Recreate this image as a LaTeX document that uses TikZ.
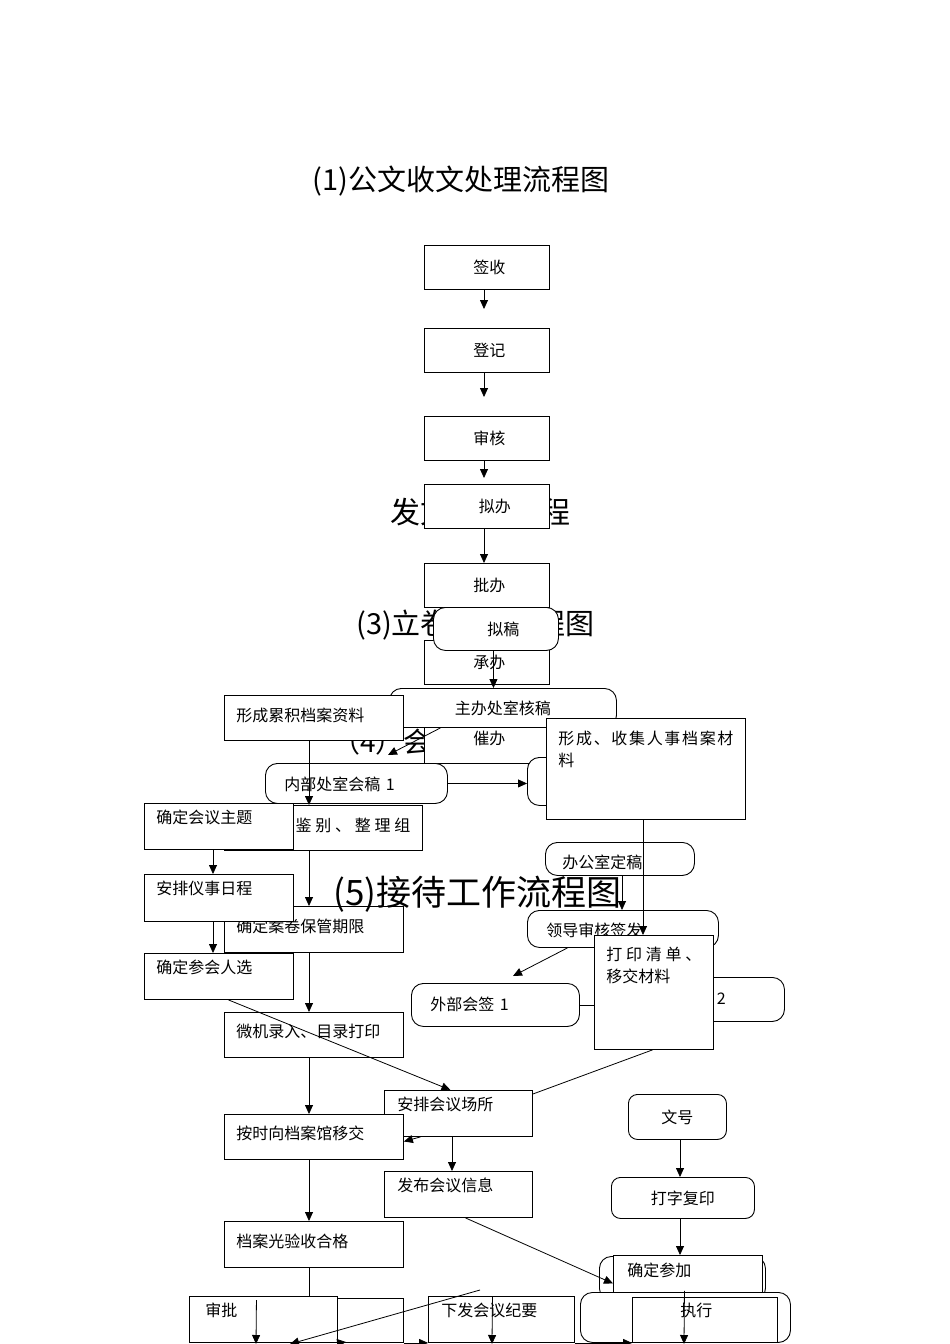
\documentclass[tikz,border=0pt]{standalone}
\usepackage{fontspec}
\setmainfont{Noto Sans CJK SC}
\usetikzlibrary{arrows.meta}

\begin{document}
\begin{tikzpicture}[x=1pt,y=-1pt,
    every node/.style={font=\fontsize{16}{22}\selectfont},
    flow/.style={draw,line width=0.9pt,fill=white,inner ysep=0pt,anchor=north west},
    sqbox/.style={flow},
    rdbox/.style={flow,rounded corners=12pt},
    cbox/.style={sqbox,minimum width=125pt,minimum height=44pt},
    lft/.style={inner xsep=12pt,text width=#1,align=left},
    ttl/.style={inner sep=0pt,font=\fontsize{29}{31}\selectfont},
    arr/.style={line width=0.8pt,-{Triangle[length=9pt,width=8pt]}},
    ln/.style={line width=0.8pt}]
  \fill[white] (0,0) rectangle (950,1344);
  \useasboundingbox (0,0) rectangle (950,1344);
  % vertical runs of the arrows, and the ends that stop short of a box
  \coordinate (colA) at (309,0);
  \coordinate (colB) at (213,0);
  \coordinate (colC) at (484,0);
  \coordinate (colD) at (680,0);
  \coordinate (colE) at (452,0);
  \coordinate (colF) at (643,0);
  \coordinate (colG) at (622,0);
  \coordinate (e1) at (484,309);
  \coordinate (e2) at (484,397);
  \coordinate (e3) at (484,478);
  \coordinate (e6) at (388,755);
  \coordinate (e11) at (513,976);
  \coordinate (eb1) at (256,1344);
  \coordinate (eb2) at (492,1344);
  \coordinate (eb3) at (684,1344);
  \coordinate (sb4) at (480,1290);
  \coordinate (eb4) at (290,1344);
  \coordinate (eb5) at (346,1342);

  \node[ttl] (t1) at (461,181) {(1)公文收文处理流程图};
  \node[ttl,anchor=west,font=\fontsize{30}{32}\selectfont] (t2) at (390,512) {发文处理流程};
  \node[ttl,anchor=west] (t3) at (356,625) {(3)立卷归档流程图};
  \node[ttl,anchor=west,font=\fontsize{28}{30}\selectfont] (t4) at (332,742) {（4）会议工作流程图};

  \node[cbox] (qianshou) at (424,245) {\hspace*{5pt}签收};
  \node[cbox] (dengji) at (424,328) {\hspace*{5pt}登记};
  \node[cbox] (shenhe) at (424,416) {\hspace*{5pt}审核};
  \node[cbox] (niban) at (424,484) {\hspace*{16pt}拟办};
  \node[cbox] (piban) at (424,563) {\hspace*{5pt}批办};
  \node[cbox] (chengban) at (424,640) {\hspace*{5pt}承办};
  \node[sqbox,minimum width=125pt,text height=44pt,text depth=19pt] (cuiban) at (424,700) {\hspace*{5pt}催办};
  \draw[arr] (qianshou.south -| colC) -- (e1);
  \draw[arr] (dengji.south -| colC) -- (e2);
  \draw[arr] (shenhe.south -| colC) -- (e3);
  \draw[arr] (niban.south -| colC) -- (piban.north -| colC);

  \node[rdbox,minimum width=125pt,minimum height=43pt] (nigao) at (433,607) {\hspace*{15pt}拟稿};
  \node[rdbox,minimum width=227pt,minimum height=39pt] (zhuban) at (389,688) {主办处室核稿};
  \draw[arr] ([xshift=-2.5pt]nigao.south) -- ([xshift=-2.5pt]nigao.south |- zhuban.north);
  \node[sqbox,lft=155pt,text height=26pt,text depth=19pt] (leiji) at (224,695) {形成累积档案资料};
  \draw[arr] ([xshift=-62.5pt]zhuban.south) -- (e6);

  \node[rdbox,lft=144pt,inner xsep=19pt,text height=27pt,text depth=13pt] (neibu) at (265,763) {内部处室会稿 1};
  \node[rdbox,minimum width=190pt,minimum height=48pt] (huigao2) at (527,757) {};
  \draw[arr] (neibu.east) -- (neibu.east -| huigao2.west);
  \node[sqbox,lft=175pt,text height=26pt,text depth=75pt] (renshi) at (546,718)
    {\makebox[175pt][s]{形\hfil 成\hfil 、\hfil 收\hfil 集\hfil 人\hfil 事\hfil 档\hfil 案\hfil 材}\\料};
  \node[sqbox,lft=174pt,text height=26pt,text depth=19pt] (jianbie) at (224,805)
    {\makebox[174pt][s]{按\hfil 要\hfil 求\hfil 鉴\hfil 别\hfil 、\hfil 整\hfil 理\hfil 组}};
  \draw[arr] (leiji.south -| colA) -- (jianbie.north -| colA);
  \node[sqbox,lft=125pt,text height=20pt,text depth=26pt] (zhuti) at (144,803) {确定会议主题};

  \node[rdbox,lft=115pt,inner xsep=17pt,text height=26pt,text depth=7pt] (bangong) at (545,842) {办公室定稿};
  \node[rdbox,lft=153pt,inner xsep=19pt,text height=26pt,text depth=11pt] (lingdao) at (527,910) {领导审核签发};
  \draw[arr] (bangong.south -| colG) -- (lingdao.north -| colG);
  \node[rdbox,lft=130pt,inner xsep=19pt,text height=27pt,text depth=16pt] (waibu) at (411,983) {外部会签 1};
  \node[rdbox,lft=118pt,inner xsep=19pt,text height=27pt,text depth=17pt] (huiqian2) at (628,977) {外部会签 2};
  \draw[ln] (waibu.east) -- (waibu.east -| huiqian2.west);
  \node[sqbox,lft=95pt,text height=25pt,text depth=89pt] (qingdan) at (594,935)
    {\makebox[95pt][s]{打\hfil 印\hfil 清\hfil 单\hfil 、}\\移交材料};
  \draw[arr] (renshi.south -| colF) -- (qingdan.north -| colF);
  \draw[arr] ([xshift=-55.5pt]lingdao.south) -- (e11);

  \node[sqbox,lft=155pt,text height=26pt,text depth=20pt] (baoguan) at (224,906) {确定案卷保管期限};
  \node[sqbox,lft=125pt,text height=20pt,text depth=27pt] (richeng) at (144,874) {安排仪事日程};
  \node[sqbox,lft=125pt,text height=20pt,text depth=26pt] (renxuan) at (144,953) {确定参会人选};
  \draw[arr] (zhuti.south -| colB) -- (richeng.north -| colB);
  \draw[arr] (richeng.south -| colB) -- (renxuan.north -| colB);
  \draw[arr] (jianbie.south -| colA) -- (baoguan.north -| colA);
  \node[ttl,anchor=west,font=\fontsize{35}{37}\selectfont] (t5) at (333,894) {(5)接待工作流程图};

  \node[sqbox,lft=155pt,text height=25pt,text depth=20pt] (weiji) at (224,1012) {微机录入、目录打印};
  \draw[arr] (baoguan.south -| colA) -- (weiji.north -| colA);
  \node[sqbox,lft=122pt,inner xsep=13pt,text height=20pt,text depth=26pt] (changsuo) at (384,1090) {安排会议场所};
  \draw[arr] ([xshift=9.5pt]renxuan.south) -- ([xshift=-8pt]changsuo.north);
  \node[sqbox,lft=155pt,text height=25pt,text depth=20pt] (yijiao) at (224,1114) {按时向档案馆移交};
  \draw[arr] (weiji.south -| colA) -- (yijiao.north -| colA);
  \draw[ln] ([xshift=-1.5pt]qingdan.south) -- ([yshift=-4pt]changsuo.north east);
  \draw[arr] ([xshift=-38pt]changsuo.south) -- ([yshift=-4.5pt]yijiao.east);
  \node[sqbox,lft=122pt,inner xsep=13pt,text height=20pt,text depth=26pt] (xinxi) at (384,1171) {发布会议信息};
  \draw[arr] (changsuo.south -| colE) -- (xinxi.north -| colE);
  \node[sqbox,lft=155pt,text height=26pt,text depth=20pt] (yanshou) at (224,1221) {档案光验收合格};
  \draw[arr] (yijiao.south -| colA) -- (yanshou.north -| colA);

  \node[rdbox,rounded corners=9pt,minimum width=98pt,minimum height=45pt] (wenhao) at (628,1094) {文号};
  \node[rdbox,rounded corners=9pt,minimum width=143pt,minimum height=41pt] (dazi) at (611,1177) {打字复印};
  \draw[arr] (wenhao.south -| colD) -- (dazi.north -| colD);
  \node[rdbox,minimum width=166pt,minimum height=44pt] (canjiabg) at (599,1256) {};
  \node[sqbox,lft=121pt,inner xsep=14pt,text height=21pt,text depth=24pt] (canjia) at (613,1255) {确定参加};
  \draw[arr] (dazi.south -| colD) -- (canjia.north -| colD);
  \draw[arr] ([xshift=7pt]xinxi.south) -- ([yshift=-5.5pt]canjia.west);

  \node[sqbox,minimum width=179pt,minimum height=44pt] (guidang) at (224,1298) {};
  \node[sqbox,lft=116pt,inner xsep=16pt,text height=20pt,text depth=26pt] (shenpi) at (189,1296) {审批};
  \node[sqbox,lft=120pt,inner xsep=13pt,text height=20pt,text depth=26pt] (jiyao) at (428,1296) {下发会议纪要};
  \node[rdbox,minimum width=210pt,minimum height=50pt] (zhixingbg) at (580,1292) {};
  \node[sqbox,lft=49pt,inner xsep=48pt,text height=19pt,text depth=26pt] (zhixing) at (632,1297) {执行};
  \draw[ln] (yanshou.south -| colA) -- (shenpi.north -| colA);
  \draw[arr] ([xshift=-7pt,yshift=-4pt]shenpi.north) -- (eb1);
  \draw[arr] ([xshift=-9pt]jiyao.north) -- (eb2);
  \draw[arr] ([xshift=-3.5pt,yshift=10pt]canjia.south) -- (eb3);
  \draw[arr] (sb4) -- (eb4);
  \draw[arr] (shenpi.south east) -- (eb5);
  \draw[arr] (guidang.south east) -- (jiyao.south west);
  \draw[arr] (jiyao.south east) -- (zhixing.south west);
\end{tikzpicture}
\end{document}
